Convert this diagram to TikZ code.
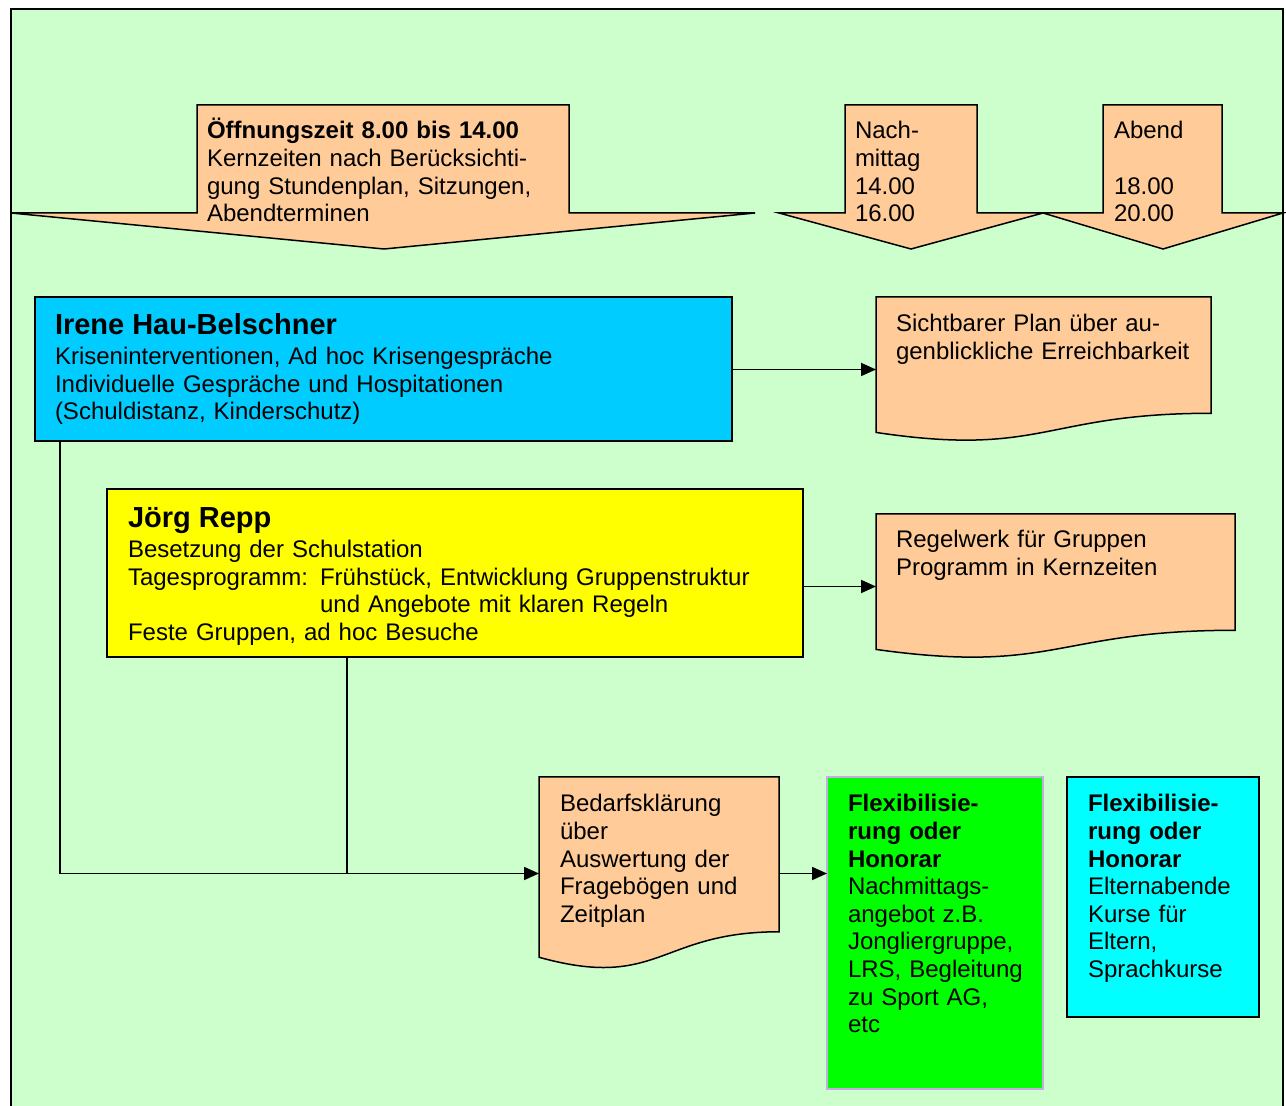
\documentclass[tikz,border=0pt]{standalone}
\usepackage{fontspec}
\setmainfont{Liberation Sans}
\usetikzlibrary{arrows.meta}
\usetikzlibrary{calc}
\definecolor{meadow}{RGB}{204,255,204}
\definecolor{peach}{RGB}{255,204,153}
\definecolor{sky}{RGB}{0,204,255}
\definecolor{lemon}{RGB}{255,255,0}
\definecolor{flexgreen}{RGB}{0,255,0}
\definecolor{aqua}{RGB}{0,255,255}
\definecolor{lilac}{RGB}{200,170,230}
\newcommand{\namefont}{\fontsize{14.5}{17}\selectfont\bfseries}
\tikzstyle{every node}=[inner sep=0pt, outer sep=0pt, font=\fontsize{12}{13.8}\selectfont]
\tikzset{txt/.style={anchor=base west, align=left, text width=180pt},
	staffbox/.style={draw, line width=0.75pt, anchor=north west, align=left},
	docnode/.style={anchor=north west},
	timearrow/.style={draw, fill=peach, line width=0.75pt},
	wire/.style={line width=0.9pt},
	link/.style={line width=0.9pt, -{Triangle[length=7.5pt,width=6.5pt]}}}
\newcommand{\docshape}[1]{%
	\filldraw[fill=peach, line width=0.75pt] (#1.north west) -- (#1.north east)
		-- ($(#1.north east)!0.802!(#1.south east)$)
		.. controls ($(#1.north)!0.802!(#1.south)$) and ($(#1.north)!1.107!(#1.south)$)
		.. ($(#1.north west)!0.934!(#1.south west)$) -- cycle;}

\begin{document}
\begin{tikzpicture}[x=0.5pt, y=-0.5pt]
		\useasboundingbox (0,0) rectangle (1286,1106);
		\fill[white] (0,0) rectangle (1286,1106);
		\fill[meadow] (11,9) rectangle (1283,1106);
		\draw[line width=0.75pt] (11,1106) -- (11,9) -- (1283,9) -- (1283,1106);
		\draw[timearrow] (197,105) -- (569,105) -- (569,213) -- (755,213) -- (384,249) -- (11,213) -- (197,213) -- cycle;
		\draw[timearrow] (845,105) -- (977,105) -- (977,213) -- (1043,213) -- (911,249) -- (779,213) -- (845,213) -- cycle;
		\draw[timearrow] (1103,105) -- (1222,105) -- (1222,213) -- (1283,213) -- (1163,249) -- (1043,213) -- (1103,213) -- cycle;
		\node[txt] (opening) at (207,139) {\textbf{Öffnungszeit 8.00 bis 14.00}\\Kernzeiten nach Berücksichti-\\gung Stundenplan, Sitzungen,\\Abendterminen};
		\node[txt, text width=60pt] (afternoon) at (855,139) {Nach-\\mittag\\14.00\\16.00};
		\node[txt, text width=55pt] (evening) at (1114,139) {Abend\\\mbox{}\\18.00\\20.00};
		\node[staffbox, fill=sky, minimum width=348.5pt, minimum height=72pt, inner xsep=10pt, text width=328.5pt] (irene) at (35,297)
			{{\namefont Irene Hau-Belschner}\\[1.2pt]Kriseninterventionen, Ad hoc Krisengespräche\\Individuelle Gespräche und Hospitationen\\(Schuldistanz, Kinderschutz)};
		\node[staffbox, fill=lemon, minimum width=348pt, minimum height=84pt, inner xsep=10.5pt, text width=327pt] (jorg) at (107,489)
			{{\namefont\rule{0pt}{13.5pt}Jörg Repp}\\[1pt]Besetzung der Schulstation\\Tagesprogramm: Frühstück, Entwicklung Gruppenstruktur\\\hphantom{Tagesprogramm: }und Angebote mit klaren Regeln\\Feste Gruppen, ad hoc Besuche};
		\node[docnode, minimum width=167.5pt, minimum height=72.5pt] (plan) at (876,297) {};
		\node[docnode, minimum width=179.5pt, minimum height=72.5pt] (rules) at (876,514) {};
		\node[docnode, minimum width=120pt, minimum height=96.5pt] (needs) at (539,777) {};
		\docshape{plan}
		\docshape{rules}
		\docshape{needs}
		\node[staffbox, draw=lilac, fill=flexgreen, minimum width=108pt, minimum height=156pt] (flex) at (827,777) {};
		\node[staffbox, fill=aqua, line width=1.1pt, minimum width=96pt, minimum height=120pt] (parents) at (1067,777) {};
		\node[txt] (plantext) at (896,332) {Sichtbarer Plan über au-\\genblickliche Erreichbarkeit};
		\node[txt] (rulestext) at (896,548) {Regelwerk für Gruppen\\Programm in Kernzeiten};
		\node[txt, text width=110pt] (needstext) at (560,812) {Bedarfsklärung\\über\\Auswertung der\\Fragebögen und\\Zeitplan};
		\node[txt, text width=95pt] (flextext) at (848,812) {\textbf{Flexibilisie-}\\\textbf{rung oder}\\\textbf{Honorar}\\Nachmittags-\\angebot z.B.\\Jongliergruppe,\\LRS, Begleitung\\zu Sport AG,\\etc};
		\node[txt, text width=85pt] (parentstext) at (1088,812) {\textbf{Flexibilisie-}\\\textbf{rung oder}\\\textbf{Honorar}\\Elternabende\\Kurse für\\Eltern,\\Sprachkurse};
		\coordinate (irenefoot) at ([xshift=12.5pt]irene.south west);
		\coordinate (jorgfoot) at ([xshift=120pt]jorg.south west);
		\draw[link] (irene.east |- plan.west) -- (plan.west);
		\draw[link] (jorg.east |- rules.west) -- (rules.west);
		\draw[link] (irenefoot) |- (needs.west);
		\draw[wire] (jorgfoot) -- (jorgfoot |- needs.west);
		\draw[link] (needs.east) -- (needs.east -| flex.west);
		\end{tikzpicture}
\end{document}
